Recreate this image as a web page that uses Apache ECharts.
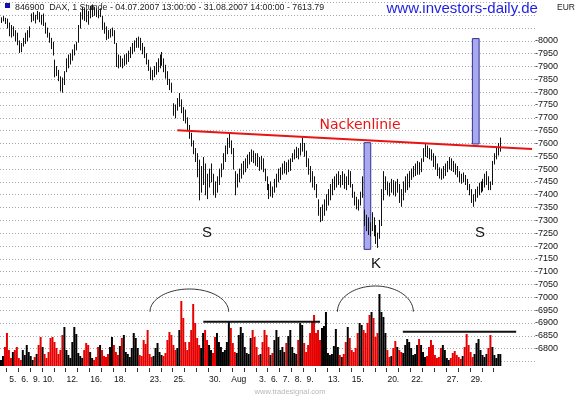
<!DOCTYPE html>
<html><head><meta charset="utf-8">
<script src="https://cdn.jsdelivr.net/npm/echarts@6/dist/echarts.min.js"></script>
<style>html,body{margin:0;padding:0;background:#fff}#c{width:580px;height:397px}</style>
</head><body><div id="c"></div>
<script>
// Trading days 04.07.2007 .. 31.08.2007 (axis labels; '' = unlabeled day)
const dayLabels = ['', '5.', '6.', '9.', '10.', '', '12.', '', '16.', '', '18.', '', '', '23.', '', '25.', '', '', '30.', '',
  'Aug', '', '3.', '6.', '7.', '8.', '9.', '', '13.', '', '15.', '', '', '20.', '', '22.', '', '', '27.', '', '29.', '', ''];
// bars per day: 4 Jul partial, 31 Aug partial
const barsPerDay = dayLabels.map((_, d) => d === 0 ? 3 : (d === dayLabels.length - 1 ? 4 : 6));
const yTickLabels = [6800, 6850, 6900, 6950, 7000, 7050, 7100, 7150, 7200, 7250, 7300, 7350, 7400, 7450, 7500,
  7550, 7600, 7650, 7700, 7750, 7800, 7850, 7900, 7950, 8000];

const priceHigh = [
  8090,8095,8088,
  8085,8070,8060,8055,8040,8030,
  8000,7990,8010,8030,8040,8055,
  8105,8110,8100,8115,8110,8100,
  8105,8070,8050,8030,8010,7995,
  7925,7900,7885,7860,7855,7880,
  7930,7945,7950,7965,7985,7995,
  8060,8110,8130,8125,8120,8115,
  8135,8140,8130,8125,8120,8125,
  8095,8070,8055,8040,8045,8050,
  8040,7990,7945,7940,7930,7945,
  7950,7960,7975,7990,8000,8010,
  8015,8010,7990,7975,7950,7925,
  7895,7885,7900,7915,7930,7945,
  7955,7930,7905,7880,7850,7835,
  7755,7750,7775,7795,7770,7740,
  7730,7700,7670,7640,7610,7580,
  7560,7535,7510,7545,7520,7480,
  7500,7520,7480,7450,7470,7500,
  7520,7560,7590,7620,7640,7610,
  7580,7490,7480,7500,7520,7530,
  7540,7555,7565,7575,7570,7560,
  7560,7545,7550,7540,7500,7470,
  7440,7450,7430,7460,7480,7500,
  7505,7520,7530,7525,7535,7540,
  7560,7575,7585,7580,7600,7620,
  7600,7570,7540,7510,7490,7470,
  7440,7380,7350,7360,7380,7400,
  7420,7440,7460,7470,7480,7490,
  7475,7490,7480,7470,7495,7490,
  7440,7410,7390,7380,7410,7470,
  7340,7320,7310,7290,7330,7310,
  7280,7250,7300,7420,7490,7470,
  7450,7445,7460,7455,7450,7460,
  7440,7420,7450,7470,7480,7490,
  7500,7510,7520,7530,7525,7540,
  7580,7600,7590,7580,7575,7560,
  7550,7520,7505,7500,7510,7520,
  7530,7545,7540,7530,7520,7510,
  7490,7480,7485,7475,7460,7440,
  7420,7400,7420,7430,7445,7450,
  7460,7480,7490,7470,7450,7530,
  7560,7585,7600,7621
];
const priceLow = [
  8072,8078,8068,
  8050,8020,8015,8020,8000,7985,
  7955,7958,7980,7990,8000,8015,
  8075,8080,8070,8085,8075,8065,
  8060,8030,8015,7995,7970,7945,
  7860,7865,7845,7805,7800,7830,
  7880,7895,7910,7925,7945,7965,
  7995,8050,8085,8080,8075,8065,
  8090,8095,8100,8095,8090,8095,
  8045,8030,8005,8010,8015,8020,
  7990,7900,7895,7900,7895,7905,
  7910,7920,7935,7950,7960,7975,
  7975,7965,7950,7935,7910,7885,
  7850,7848,7860,7870,7880,7895,
  7905,7880,7855,7830,7810,7800,
  7710,7700,7730,7745,7720,7690,
  7680,7650,7620,7590,7560,7530,
  7470,7380,7410,7440,7400,7385,
  7430,7450,7400,7390,7410,7440,
  7470,7500,7530,7560,7585,7560,
  7500,7400,7430,7450,7465,7480,
  7490,7505,7520,7530,7525,7515,
  7510,7495,7500,7490,7455,7420,
  7385,7395,7390,7410,7430,7450,
  7460,7480,7485,7480,7490,7495,
  7530,7540,7545,7540,7555,7570,
  7550,7510,7480,7450,7430,7420,
  7390,7320,7295,7300,7320,7340,
  7360,7380,7400,7420,7430,7440,
  7430,7440,7425,7420,7440,7430,
  7390,7360,7345,7340,7360,7390,
  7280,7260,7245,7240,7260,7240,
  7210,7195,7230,7280,7380,7420,
  7400,7395,7410,7400,7395,7410,
  7370,7355,7380,7410,7420,7430,
  7460,7470,7475,7480,7480,7490,
  7530,7550,7545,7540,7535,7510,
  7500,7475,7465,7460,7465,7475,
  7490,7500,7495,7490,7480,7470,
  7450,7445,7450,7440,7420,7400,
  7370,7355,7375,7390,7400,7410,
  7415,7430,7440,7420,7420,7440,
  7520,7540,7555,7570
];
const volume = [
  6,10,19,
  33,16,8,14,16,19,
  8,6,16,11,21,14,
  10,6,9,12,21,29,
  19,12,8,14,28,29,
  24,18,12,16,31,39,
  16,11,8,24,39,32,
  13,10,8,16,23,21,
  14,8,6,9,19,21,
  16,10,9,12,19,29,
  21,14,11,20,28,31,
  14,12,9,18,33,28,
  18,11,10,26,22,36,
  12,9,10,18,23,14,
  11,10,13,26,34,31,
  21,16,18,36,65,48,
  24,16,24,36,62,43,
  28,21,18,33,36,26,
  21,16,13,29,33,24,
  19,14,16,24,44,38,
  23,14,13,31,39,33,
  19,13,12,28,36,29,
  19,11,12,24,36,31,
  19,11,13,26,36,29,
  16,19,14,23,30,36,
  19,13,12,26,43,41,
  23,14,21,33,44,51,
  33,36,26,38,40,54,
  13,11,12,20,37,19,
  11,9,12,24,39,28,
  16,14,18,33,43,41,
  36,33,43,51,54,48,
  29,33,72,54,49,33,
  16,9,10,18,25,19,
  16,14,13,21,27,24,
  18,11,12,21,27,21,
  14,9,10,19,26,21,
  11,8,9,18,21,16,
  8,6,8,13,15,11,
  9,7,10,19,32,21,
  14,9,12,23,27,16,
  11,9,12,18,31,19,
  11,8,12,12
];
// annotations (bar-index positions, price / volume values)
const neckline = [[89, 7652], [268, 7578]];
const boxes = [[183.25, 186.6, 7187, 7603], [237.9, 241.3, 7598, 8009]];
const priceTexts = [['S', 104, 7251, 15], ['S', 241.8, 7252, 15], ['K', 189.3, 7130, 15], ['Nackenlinie', 181.2, 7672, 14]];
const volArcs = [[75.2, 114.9, 54.3, 77], [169.8, 208.1, 54.3, 80]];
const volLines = [[102.1, 161.0, 44.3], [202.8, 260.0, 34.3]];

// build categories
const cats = [], tickIdx = [], labelIdx = {};
barsPerDay.forEach((n, d) => {
  const start = cats.length;
  if (d > 0) tickIdx.push(start);
  if (dayLabels[d]) labelIdx[start + 3] = dayLabels[d];
  for (let k = 0; k < n; k++) cats.push(d + '-' + k);
});
for (let k = 0; k < 17; k++) cats.push('pad' + k);

const mid = priceHigh.map((h, i) => (h + priceLow[i]) / 2);
const volData = volume.map((v, i) => ({
  value: v,
  itemStyle: { color: (i > 0 && mid[i] < mid[i - 1]) ? '#e60000' : '#000000' }
}));

function px(api, idx, val) {
  const f = Math.floor(idx);
  const c = api.coord([f, val]);
  const bw = api.size([1, 0])[0];
  return [c[0] + (idx - f) * bw, c[1]];
}

const FONT = 'Liberation Sans, Arial, sans-serif';
const chart = echarts.init(document.getElementById('c'), null, { renderer: 'canvas' });
chart.setOption({
  animation: false,
  backgroundColor: '#fff',
  grid: [
    { left: 0, right: 45, top: 2.45, bottom: 35.6, containLabel: false, outerBoundsMode: 'none' },
    { left: 0, right: 45, top: 0, bottom: 31, containLabel: false, outerBoundsMode: 'none' }
  ],
  xAxis: [
    { type: 'category', gridIndex: 0, data: cats, show: false, boundaryGap: true },
    { type: 'category', gridIndex: 1, data: cats, boundaryGap: true,
      axisLine: { show: false },
      axisTick: { show: false },
      axisLabel: { interval: (i) => labelIdx[i] !== undefined, formatter: (v, i) => labelIdx[i] || '',
        margin: 9, fontSize: 8.5, color: '#111', fontFamily: FONT },
      splitLine: { show: false } }
  ],
  yAxis: [
    { type: 'value', gridIndex: 0, position: 'right', min: 6750, max: 8150, interval: 50,
      axisLine: { show: false }, axisTick: { show: false },
      axisLabel: { margin: 0, fontSize: 9, color: '#111', fontFamily: FONT,
        formatter: (v) => yTickLabels.indexOf(v) >= 0 ? '-' + v : '' },
      splitLine: { show: true, lineStyle: { color: '#a8a8a8', type: [1, 2], width: 1 } } },
    { type: 'value', gridIndex: 1, min: 0, max: 366, show: false, splitLine: { show: false } }
  ],
  graphic: [
    { type: 'rect', left: 5, top: 3, shape: { width: 5, height: 5 }, style: { fill: '#1010b0' }, z: 10 },
    { type: 'text', x: 15, y: 7.5, z: 10, style: { text: '846900  DAX, 1 Stunde - 04.07.2007 13:00:00 - 31.08.2007 14:00:00 - 7613.79',
      fill: '#222', font: '8.8px ' + FONT, verticalAlign: 'middle' } },
    { type: 'text', x: 386.5, y: 9, z: 10, style: { text: 'www.investors-daily.de', fill: '#1e1ee0',
      font: '15px ' + FONT, verticalAlign: 'middle' } },
    { type: 'text', x: 557, y: 8, z: 10, style: { text: 'EUR', fill: '#222', font: '8.5px ' + FONT, verticalAlign: 'middle' } },
    { type: 'text', x: 290, y: 392, z: 10, style: { text: 'www.tradesignal.com', fill: '#b8b8b8',
      font: '7.5px ' + FONT, align: 'center', verticalAlign: 'middle' } }
  ],
  series: [
    { type: 'custom', name: 'boxes', xAxisIndex: 0, yAxisIndex: 0, z: 1, clip: false,
      data: boxes.map(b => [Math.round(b[0]), b[3]]),
      renderItem: (params, api) => {
        const b = boxes[params.dataIndex];
        const p1 = px(api, b[0], b[3]), p2 = px(api, b[1], b[2]);
        return { type: 'rect', shape: { x: p1[0], y: p1[1], width: p2[0] - p1[0], height: p2[1] - p1[1] },
          style: { fill: '#a9a9ef', stroke: '#303090', lineWidth: 1 } };
      } },
    { type: 'bar', name: 'Volumen', xAxisIndex: 1, yAxisIndex: 1, data: volData,
      barCategoryGap: '0%', barGap: '0%', z: 2, large: false },
    { type: 'custom', name: 'dayTicks', xAxisIndex: 1, yAxisIndex: 1, z: 2, clip: false,
      data: tickIdx.map(i => [i, 0]),
      renderItem: (params, api) => {
        const c = api.coord([api.value(0), 0]);
        const bw = api.size([1, 0])[0];
        const x = Math.round(c[0] - bw / 2) + 0.5;
        return { type: 'line', shape: { x1: x, y1: c[1] + 2, x2: x, y2: c[1] + 6 }, style: { stroke: '#333', lineWidth: 1 } };
      } },
    { type: 'custom', name: 'DAX', xAxisIndex: 0, yAxisIndex: 0, z: 3,
      data: priceHigh.map((h, i) => [i, h, priceLow[i]]),
      encode: { x: 0, y: [1, 2] },
      renderItem: (params, api) => {
        const i = api.value(0);
        const hi = api.coord([i, api.value(1)]);
        const lo = api.coord([i, api.value(2)]);
        const x = Math.round(hi[0]) + 0.5;
        return { type: 'line', shape: { x1: x, y1: hi[1] - 0.5, x2: x, y2: lo[1] + 0.5 },
          style: { stroke: '#111', lineWidth: 1 } };
      } },
    { type: 'custom', name: 'neck', xAxisIndex: 0, yAxisIndex: 0, z: 5, clip: false,
      data: [[neckline[0][0], neckline[0][1]]],
      renderItem: (params, api) => {
        const a = px(api, neckline[0][0], neckline[0][1]), b = px(api, neckline[1][0], neckline[1][1]);
        return { type: 'line', shape: { x1: a[0], y1: a[1], x2: b[0], y2: b[1] },
          style: { stroke: '#e81414', lineWidth: 2 } };
      } },
    { type: 'custom', name: 'texts', xAxisIndex: 0, yAxisIndex: 0, z: 6, clip: false,
      data: priceTexts.map(t => [Math.round(t[1]), t[2]]),
      renderItem: (params, api) => {
        const t = priceTexts[params.dataIndex];
        const p = px(api, t[1], t[2]);
        const isNeck = t[0] === 'Nackenlinie';
        return { type: 'text', x: p[0], y: p[1],
          style: { text: t[0], fill: isNeck ? '#e81414' : '#111',
            font: t[3] + 'px ' + (isNeck ? 'DejaVu Sans, sans-serif' : FONT), align: 'center', verticalAlign: 'middle' } };
      } },
    { type: 'custom', name: 'arcs', xAxisIndex: 1, yAxisIndex: 1, z: 6, clip: false,
      data: volArcs.map(a => [Math.round(a[0]), a[2]]),
      renderItem: (params, api) => {
        const a = volArcs[params.dataIndex];
        const l = px(api, a[0], a[2]), r = px(api, a[1], a[2]), top = px(api, a[0], a[3]);
        const cx = (l[0] + r[0]) / 2, rx = (r[0] - l[0]) / 2, ry = l[1] - top[1];
        const pts = [];
        for (let k = 0; k <= 48; k++) {
          const t = Math.PI * k / 48;
          pts.push([cx - rx * Math.cos(t), l[1] - ry * Math.sin(t)]);
        }
        return { type: 'polyline', shape: { points: pts }, style: { stroke: '#333', lineWidth: 1, fill: null } };
      } },
    { type: 'custom', name: 'hlines', xAxisIndex: 1, yAxisIndex: 1, z: 6, clip: false,
      data: volLines.map(a => [Math.round(a[0]), a[2]]),
      renderItem: (params, api) => {
        const a = volLines[params.dataIndex];
        const l = px(api, a[0], a[2]), r = px(api, a[1], a[2]);
        return { type: 'line', shape: { x1: l[0], y1: l[1], x2: r[0], y2: r[1] }, style: { stroke: '#111', lineWidth: 2 } };
      } }
  ]
});
</script></body></html>
